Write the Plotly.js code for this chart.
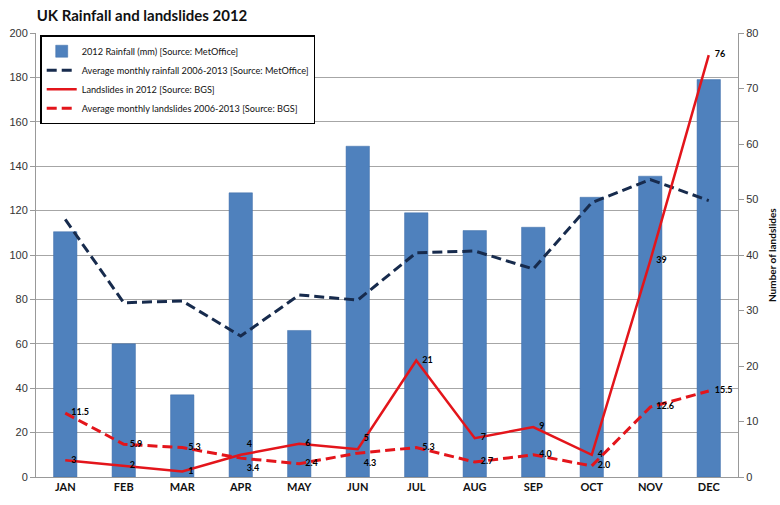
<!DOCTYPE html>
<html>
<head>
<meta charset="utf-8">
<script src="https://cdn.plot.ly/plotly-3.0.1.min.js"></script>
<style>html,body{margin:0;padding:0;background:#fff;}#chart{width:780px;height:505px;}</style>
</head>
<body>
<div id="chart"></div>
<script>
const months = ["JAN","FEB","MAR","APR","MAY","JUN","JUL","AUG","SEP","OCT","NOV","DEC"];
const rainfall2012 = [110.5, 60, 37, 128, 66, 149, 119, 111, 112.5, 126, 135.5, 179];
const avgRainfall = [116, 78.5, 79.3, 63.5, 82, 79.7, 101, 101.8, 93.7, 123.6, 134, 124.5];
const landslides2012 = [3, 2, 1, 4, 6, 5, 21, 7, 9, 4, 39, 76];
const avgLandslides = [11.5, 5.9, 5.3, 3.4, 2.4, 4.3, 5.3, 2.7, 4.0, 2.0, 12.6, 15.5];
const landslidesPos = ["middle right","middle right","middle right","top right","middle right","top right","middle right","middle right","middle right","middle right","middle right","middle right"];
const avgLandslidesPos = ["middle right","middle right","middle right","bottom right","middle right","bottom right","middle right","middle right","middle right","middle right","middle right","middle right"];

const labelFont = {family: "Lato, 'Open Sans', sans-serif", size: 9, color: "#000", weight: "bold"};
const hiddenMarker = {size: 8, color: "rgba(0,0,0,0)", line: {width: 0}};

const traces = [
  {
    type: "bar", x: months, y: rainfall2012, name: "2012 Rainfall (mm) [Source: MetOffice]",
    marker: {color: "#4F81BD", line: {color: "#3F6FA8", width: 0.5}}, width: 0.4, yaxis: "y"
  },
  {
    type: "scatter", mode: "lines", x: months, y: avgRainfall,
    name: "Average monthly rainfall 2006-2013 [Source: MetOffice]",
    line: {color: "#172B4D", width: 3, dash: "10px,5px"}, yaxis: "y"
  },
  {
    type: "scatter", mode: "lines+markers+text", x: months, y: landslides2012,
    name: "Landslides in 2012 [Source: BGS]",
    marker: hiddenMarker,
    text: landslides2012.map(v => String(v)), textposition: landslidesPos, textfont: labelFont,
    line: {color: "#E3151B", width: 2.5}, yaxis: "y2"
  },
  {
    type: "scatter", mode: "lines+markers+text", x: months, y: avgLandslides,
    name: "Average monthly landslides 2006-2013 [Source: BGS]",
    marker: hiddenMarker,
    text: avgLandslides.map(v => v.toFixed(1)), textposition: avgLandslidesPos, textfont: labelFont,
    line: {color: "#E3151B", width: 3, dash: "10px,5px"}, yaxis: "y2"
  }
];

const layout = {
  width: 780, height: 505,
  margin: {l: 36, r: 42, t: 33, b: 28},
  paper_bgcolor: "#fff", plot_bgcolor: "#fff",
  title: {text: "UK Rainfall and landslides 2012", x: 0.047, xanchor: "left", y: 0.968, yanchor: "middle",
          font: {family: "Lato, 'Open Sans', sans-serif", size: 15, color: "#111", weight: "bold"}},
  showlegend: true,
  legend: {x: 0.006, y: 0.995, xanchor: "left", yanchor: "top", bgcolor: "#fff",
           bordercolor: "#000", borderwidth: 1.5,
           font: {family: "Lato, 'Open Sans', sans-serif", size: 9.2, color: "#111"}},
  xaxis: {
    type: "category", range: [-0.5, 11.5], showgrid: false, showline: true, linecolor: "#999", linewidth: 1,
    ticks: "", automargin: false,
    tickfont: {family: "Lato, 'Open Sans', sans-serif", size: 11, color: "#111", weight: "bold"},
    fixedrange: true
  },
  yaxis: {
    range: [0, 200], dtick: 20, showgrid: true, gridcolor: "#A6A6A6", gridwidth: 1,
    showline: true, linecolor: "#999", ticks: "outside", ticklen: 5, tickcolor: "#999",
    automargin: false,
    tickfont: {family: "'Liberation Sans', Arial, sans-serif", size: 11, color: "#333"},
    zeroline: false
  },
  yaxis2: {
    range: [0, 80], dtick: 10, overlaying: "y", side: "right", showgrid: false,
    showline: true, linecolor: "#999", ticks: "outside", ticklen: 5, tickcolor: "#999",
    automargin: false,
    tickfont: {family: "'Liberation Sans', Arial, sans-serif", size: 11, color: "#333"},
    zeroline: false
  },
  annotations: [{
    text: "Number of landslides", xref: "paper", yref: "paper", x: 1, y: 0.5,
    xanchor: "center", yanchor: "middle", xshift: 34, textangle: -90, showarrow: false,
    font: {family: "Lato, 'Open Sans', sans-serif", size: 10, color: "#111", weight: "bold"}
  }],
  bargap: 0.6
};

Plotly.newPlot("chart", traces, layout, {displayModeBar: false, staticPlot: true});
</script>
</body>
</html>
